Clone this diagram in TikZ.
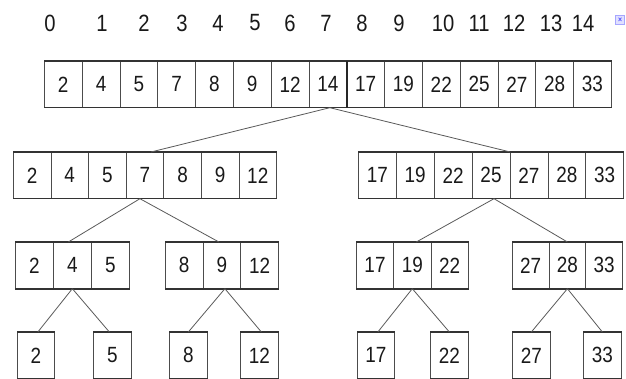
\documentclass[tikz,border=0pt]{standalone}
\usepackage{fontspec}
\setmainfont{Liberation Sans}[FakeStretch=0.86]
\begin{document}
\begin{tikzpicture}[x=1pt,y=-1pt,
  cellbox/.style={draw=black!70, line width=0.7pt, inner sep=0pt,
    minimum height=46pt, anchor=north west, text=black!90,
    font=\fontsize{22}{24}\selectfont},
  rowedge/.style={draw=black!80, line width=1.6pt},
  idx/.style={inner sep=0pt, text=black!90, font=\fontsize{23.5}{24}\selectfont},
  link/.style={draw=black!65, line width=0.8pt}]
\useasboundingbox (0,0) rectangle (626,379);

% a row of cells: name, left x, top y, cell width, number of cells, values
\newcommand\cellrow[6]{%
  \foreach \v [count=\i from 0] in {#6} {
    \node[cellbox, minimum width=#4pt] (#1\i) at ({#2+\i*#4}, #3) {\v};
  }
  \pgfmathtruncatemacro\lastcell{#5-1}
  \draw[rowedge] (#10.north west) -- (#1\lastcell.north east);
  \draw[rowedge] (#10.south west) -- (#1\lastcell.south east);
}

% index labels
\foreach \n/\x in {0/50,1/102,2/144,3/182,4/218,5/255,6/290,7/326,8/362,9/399,
                   10/443,11/479,12/514,13/551,14/583}
  \node[idx] (i\n) at (\x,23) {\n};
\node[draw=blue!35, fill=blue!12, inner sep=0.5pt, minimum size=9pt,
      text=blue!70, font=\fontsize{8}{8}\selectfont\bfseries] (icon) at (620,20) {×};

% level 0
\cellrow{t}{44}{61}{37.8}{15}{2,4,5,7,8,9,12,14,17,19,22,25,27,28,33}
\draw[black!85, line width=1.4pt] (t7.north east) -- (t7.south east);

% level 1
\cellrow{a}{13}{152}{37.6}{7}{2,4,5,7,8,9,12}
\cellrow{b}{358}{152}{37.9}{7}{17,19,22,25,27,28,33}

% level 2
\cellrow{c}{15}{242}{38}{3}{2,4,5}
\cellrow{d}{165}{242}{37.7}{3}{8,9,12}
\cellrow{e}{356}{242}{37.3}{3}{17,19,22}
\cellrow{f}{512}{242}{36.7}{3}{27,28,33}

% level 3
\cellrow{g}{17}{332}{37}{1}{2}
\cellrow{h}{93}{332}{38}{1}{5}
\cellrow{k}{169}{332}{38}{1}{8}
\cellrow{m}{240}{332}{38}{1}{12}
\cellrow{n}{357}{332}{37}{1}{17}
\cellrow{p}{430}{332}{38}{1}{22}
\cellrow{q}{512}{332}{38}{1}{27}
\cellrow{r}{583}{332}{38}{1}{33}

% splits
\draw[link] ([xshift=2pt]t7.south) -- ([xshift=6pt]a3.north);
\draw[link] ([xshift=2pt]t7.south) -- (b3.north east);

\draw[link] ([xshift=-5pt]a3.south) -- ([xshift=-4pt]c1.north);
\draw[link] ([xshift=-5pt]a3.south) -- ([xshift=-3pt]d1.north);
\draw[link] ([xshift=3pt]b3.south) -- ([xshift=4pt]e1.north);
\draw[link] ([xshift=3pt]b3.south) -- (f1.north);

\draw[link] (c1.south) -- ([xshift=2pt]g0.north);
\draw[link] (c1.south) -- ([xshift=-3pt]h0.north);
\draw[link] ([xshift=3pt]d1.south) -- (k0.north);
\draw[link] ([xshift=3pt]d1.south) -- ([xshift=2pt]m0.north);
\draw[link] (e1.south) -- ([xshift=2pt]n0.north);
\draw[link] (e1.south) -- (p0.north);
\draw[link] (f1.south) -- (q0.north);
\draw[link] (f1.south) -- (r0.north);
\end{tikzpicture}
\end{document}
